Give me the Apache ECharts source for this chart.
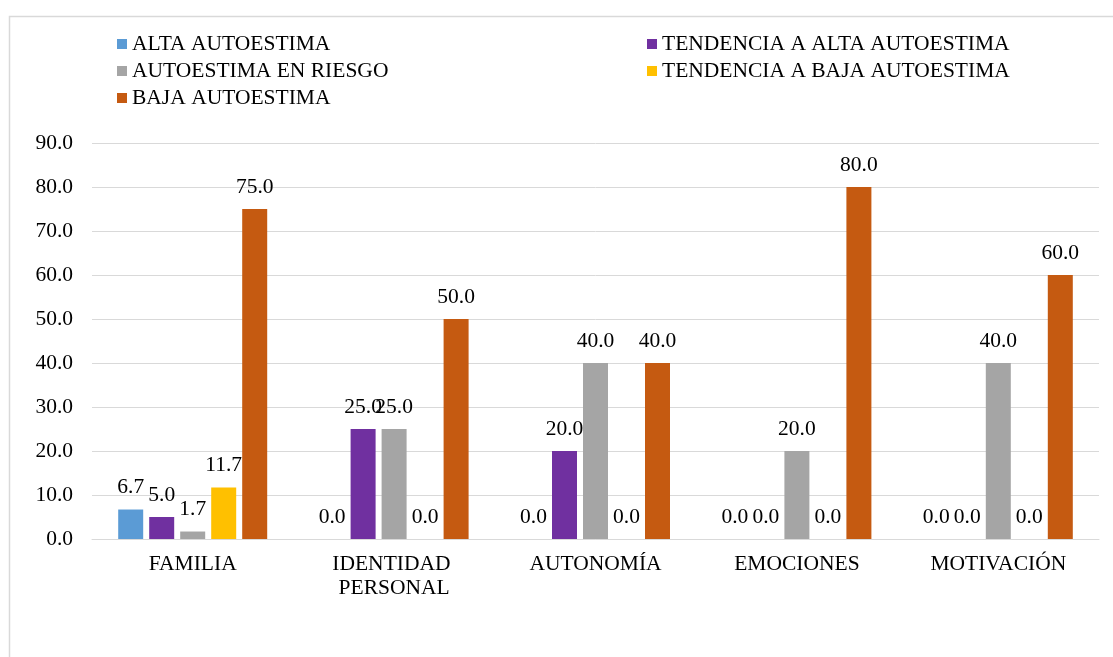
<!DOCTYPE html>
<html>
<head>
<meta charset="utf-8">
<script src="https://cdn.jsdelivr.net/npm/echarts@6/dist/echarts.min.js"></script>
<style>
html,body{margin:0;padding:0;background:#fff;}
#c{width:1113px;height:657px;}
</style>
</head>
<body>
<div id="c"></div>
<script>
var categories = ['FAMILIA', 'IDENTIDAD PERSONAL', 'AUTONOMÍA', 'EMOCIONES', 'MOTIVACIÓN'];
var seriesNames = ['ALTA AUTOESTIMA', 'TENDENCIA A ALTA AUTOESTIMA', 'AUTOESTIMA EN RIESGO', 'TENDENCIA A BAJA AUTOESTIMA', 'BAJA AUTOESTIMA'];
var altaAutoestima = [6.7, 0.0, 0.0, 0.0, 0.0];
var tendenciaAlta = [5.0, 25.0, 20.0, 0.0, 0.0];
var enRiesgo = [1.7, 25.0, 40.0, 20.0, 40.0];
var tendenciaBaja = [11.7, 0.0, 0.0, 0.0, 0.0];
var bajaAutoestima = [75.0, 50.0, 40.0, 80.0, 60.0];
var yTicks = { min: 0, max: 90, interval: 10 };

var colors = ['#5B9BD5', '#7030A0', '#A5A5A5', '#FFC000', '#C55A11'];
var values = [altaAutoestima, tendenciaAlta, enRiesgo, tendenciaBaja, bajaAutoestima];
var font = '"Liberation Serif", "Times New Roman", serif';

var chart = echarts.init(document.getElementById('c'), null, { renderer: 'canvas' });
var series = seriesNames.map(function (n, i) {
  return {
    name: n,
    type: 'bar',
    data: values[i],
    barWidth: 25,
    barGap: '24%',
    itemStyle: { color: colors[i] },
    label: {
      show: true,
      position: 'top',
      distance: 11,
      color: '#000',
      fontFamily: font,
      fontSize: 21.5,
      formatter: function (p) { return Number(p.value).toFixed(1); }
    },
    emphasis: { disabled: true }
  };
});

chart.setOption({
  animation: false,
  color: colors,
  textStyle: { fontFamily: font },
  graphic: [{
    type: 'rect',
    shape: { x: 9.5, y: 16.5, width: 1300, height: 800 },
    style: { fill: 'none', stroke: '#d9d9d9', lineWidth: 1.5 },
    silent: true
  }],
  legend: [{
    data: [seriesNames[0], seriesNames[2], seriesNames[4]],
    orient: 'vertical',
    left: 117,
    top: 33,
    padding: 0,
    itemWidth: 10,
    itemHeight: 10,
    itemGap: 5,
    icon: 'rect',
    textStyle: { fontFamily: font, fontSize: 21.5, lineHeight: 21, color: '#000' }
  }, {
    data: [seriesNames[1], seriesNames[3]],
    orient: 'vertical',
    left: 647,
    top: 33,
    padding: 0,
    itemWidth: 10,
    itemHeight: 10,
    itemGap: 5,
    icon: 'rect',
    textStyle: { fontFamily: font, fontSize: 21.5, lineHeight: 21, color: '#000' }
  }],
  grid: { left: 92, right: 14, top: 143, bottom: 118, containLabel: false },
  xAxis: {
    type: 'category',
    data: categories,
    axisLine: { lineStyle: { color: '#d9d9d9', width: 1 } },
    axisTick: { show: false },
    axisLabel: {
      color: '#000',
      fontFamily: font,
      fontSize: 21.5,
      lineHeight: 24,
      margin: 13,
      width: 190,
      overflow: 'break',
      interval: 0
    }
  },
  yAxis: {
    type: 'value',
    min: yTicks.min,
    max: yTicks.max,
    interval: yTicks.interval,
    axisLine: { show: false },
    axisTick: { show: false },
    splitLine: { lineStyle: { color: '#d9d9d9', width: 1 } },
    axisLabel: {
      color: '#000',
      fontFamily: font,
      fontSize: 21.5,
      margin: 19,
      formatter: function (v) { return v.toFixed(1); }
    }
  },
  series: series
});
</script>
</body>
</html>
